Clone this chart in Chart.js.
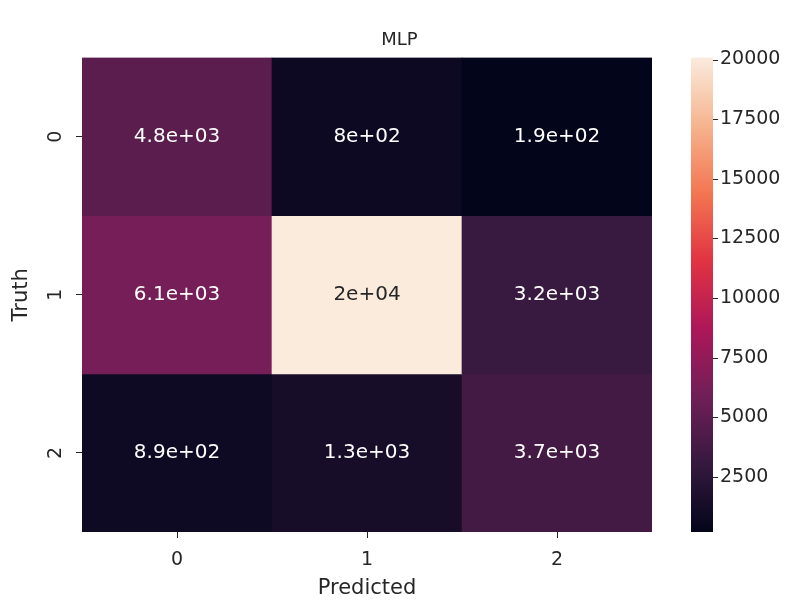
<!DOCTYPE html>
<html>
<head>
<meta charset="utf-8">
<script src="https://cdn.jsdelivr.net/npm/chart.js@4.4.1/dist/chart.umd.min.js"></script>
<style>
  body { margin: 0; background: #fff; }
  canvas { display: block; }
</style>
</head>
<body>
<canvas id="heatChart" width="799" height="601"></canvas>
<script>
  // labels along both axes
  var predLabels = ['0', '1', '2'];
  var truthLabels = ['0', '1', '2'];

  // confusion matrix rows (truth 0, 1, 2)
  var truth0 = [4800, 800, 190];
  var truth1 = [6100, 20080, 3200];
  var truth2 = [890, 1300, 3700];

  // colorbar tick labels
  var cbarTicks = [2500, 5000, 7500, 10000, 12500, 15000, 17500, 20000];

  var rows = [truth0, truth1, truth2];
  var allVals = truth0.concat(truth1, truth2);
  var vmin = Math.min.apply(null, allVals);
  var vmax = Math.max.apply(null, allVals);

  // rocket colormap stops
  var rocket = [
    [0.0, '#03051a'], [0.143, '#35193e'], [0.286, '#701f57'], [0.429, '#ad1759'],
    [0.571, '#e13342'], [0.714, '#f37651'], [0.857, '#f6b48f'], [1.0, '#faebdd']
  ];

  function hexToRgb(h) {
    return [parseInt(h.substr(1, 2), 16), parseInt(h.substr(3, 2), 16), parseInt(h.substr(5, 2), 16)];
  }

  function rocketColor(v) {
    var t = (v - vmin) / (vmax - vmin);
    t = Math.max(0, Math.min(1, t));
    for (var i = 1; i < rocket.length; i++) {
      if (t <= rocket[i][0]) {
        var a = rocket[i - 1], b = rocket[i];
        var f = (t - a[0]) / (b[0] - a[0]);
        var ca = hexToRgb(a[1]), cb = hexToRgb(b[1]);
        var c = ca.map(function(x, k) { return Math.round(x + (cb[k] - x) * f); });
        return 'rgb(' + c.join(',') + ')';
      }
    }
    return rocket[rocket.length - 1][1];
  }

  // like python's '.2g'
  function fmt2g(v) {
    if (v >= 100) {
      var s = v.toExponential(1);
      var parts = s.split('e');
      var m = parts[0].replace(/\.0$/, '');
      var e = parseInt(parts[1], 10);
      var sign = e < 0 ? '-' : '+';
      e = Math.abs(e);
      return m + 'e' + sign + (e < 10 ? '0' + e : '' + e);
    }
    return '' + v;
  }

  var datasets = rows.map(function(row, r) {
    return {
      label: 'Truth ' + truthLabels[r],
      data: row.map(function() { return [r, r + 1]; }),
      values: row,
      backgroundColor: row.map(rocketColor),
      borderWidth: 0,
      grouped: false,
      barPercentage: 1,
      categoryPercentage: 1
    };
  });

  var tickColor = '#262626';
  var fontFamily = '"DejaVu Sans", sans-serif';

  var heatPlugin = {
    id: 'heatExtras',
    afterDatasetsDraw: function(chart) {
      var ctx = chart.ctx;
      ctx.save();
      ctx.font = '20px ' + fontFamily;
      ctx.textAlign = 'center';
      ctx.textBaseline = 'middle';
      chart.data.datasets.forEach(function(ds, r) {
        var meta = chart.getDatasetMeta(r);
        meta.data.forEach(function(bar, j) {
          var v = ds.values[j];
          var t = (v - vmin) / (vmax - vmin);
          ctx.fillStyle = t > 0.6 ? '#262626' : '#ffffff';
          ctx.fillText(fmt2g(v), bar.x, (bar.y + bar.base) / 2);
        });
      });
      ctx.restore();
    },
    afterDraw: function(chart) {
      var ctx = chart.ctx;

      // rotated y tick labels, like seaborn
      var ys = chart.scales.y;
      ctx.save();
      ctx.font = '19px ' + fontFamily;
      ctx.fillStyle = tickColor;
      ctx.textAlign = 'center';
      ctx.textBaseline = 'middle';
      ys.ticks.forEach(function(t) {
        ctx.save();
        ctx.translate(ys.right - 26, ys.getPixelForValue(t.value));
        ctx.rotate(-Math.PI / 2);
        ctx.fillText(truthLabels[Math.floor(t.value)], 0, 0);
        ctx.restore();
      });
      ctx.restore();

      // colorbar
      var cb = chart.scales.cb;
      var x0 = 691, x1 = 713;
      var yTop = cb.getPixelForValue(vmax);
      var yBot = cb.getPixelForValue(vmin);
      ctx.save();
      var g = ctx.createLinearGradient(0, yBot, 0, yTop);
      rocket.forEach(function(s) { g.addColorStop(s[0], s[1]); });
      ctx.fillStyle = g;
      ctx.fillRect(x0, yTop, x1 - x0, yBot - yTop);
      ctx.strokeStyle = tickColor;
      ctx.lineWidth = 1;
      cbarTicks.forEach(function(v) {
        var y = Math.round(cb.getPixelForValue(v)) + 0.5;
        ctx.beginPath();
        ctx.moveTo(x1, y);
        ctx.lineTo(x1 + 5, y);
        ctx.stroke();
      });
      ctx.restore();
    }
  };

  new Chart(document.getElementById('heatChart'), {
    type: 'bar',
    data: { labels: predLabels, datasets: datasets },
    plugins: [heatPlugin],
    options: {
      responsive: false,
      animation: false,
      layout: { padding: 0 },
      plugins: {
        legend: { display: false },
        tooltip: { enabled: false },
        title: {
          display: true,
          text: 'MLP',
          color: tickColor,
          font: { family: fontFamily, size: 18, weight: 'normal' },
          padding: { top: 30, bottom: 6 }
        }
      },
      scales: {
        x: {
          type: 'category',
          afterFit: function(s) { s.height = 69; },
          grid: { drawOnChartArea: false, offset: false, tickLength: 6, color: tickColor, drawTicks: true },
          border: { display: false },
          ticks: { color: tickColor, font: { family: fontFamily, size: 19 }, padding: 11 },
          title: {
            display: true, text: 'Predicted', color: tickColor,
            font: { family: fontFamily, size: 21 }, padding: { top: 4, bottom: 0 }
          }
        },
        y: {
          type: 'linear',
          reverse: true,
          min: 0,
          max: truthLabels.length,
          afterFit: function(s) { s.width = 82; },
          afterBuildTicks: function(s) {
            s.ticks = truthLabels.map(function(l, i) { return { value: i + 0.5 }; });
          },
          grid: { drawOnChartArea: false, tickLength: 6, color: tickColor },
          border: { display: false },
          ticks: { display: false },
          title: {
            display: true, text: 'Truth', color: tickColor,
            font: { family: fontFamily, size: 21 }, padding: { top: 9, bottom: 0 }
          }
        },
        cb: {
          type: 'linear',
          position: 'right',
          min: vmin,
          max: vmax,
          afterFit: function(s) { s.width = 147; },
          afterBuildTicks: function(s) {
            s.ticks = cbarTicks.map(function(v) { return { value: v }; });
          },
          grid: { display: false, drawTicks: true, tickLength: 62 },
          border: { display: false },
          ticks: {
            color: tickColor,
            font: { family: fontFamily, size: 19 },
            padding: 6,
            callback: function(v) { return '' + v; }
          }
        }
      }
    }
  });
</script>
</body>
</html>
